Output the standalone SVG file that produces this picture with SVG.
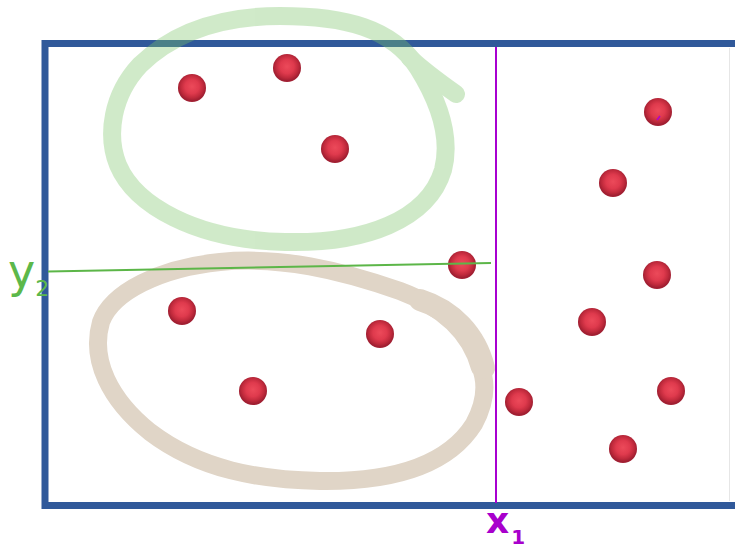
<svg xmlns="http://www.w3.org/2000/svg" width="735" height="550" viewBox="0 0 735 550">
  <defs>
    <radialGradient id="dotg" cx="50%" cy="45%" r="50%">
      <stop offset="0%" stop-color="#ec4a5a"/>
      <stop offset="50%" stop-color="#df3a4d"/>
      <stop offset="80%" stop-color="#c02a3c"/>
      <stop offset="100%" stop-color="#a11f32"/>
    </radialGradient>
    <style>
      .dot { fill: url(#dotg); }
      .frame { fill: #ffffff; stroke: #30599a; stroke-width: 7; }
      .loop { fill: none; stroke-linecap: round; stroke-linejoin: round; }
      .lbl { font-family: "DejaVu Sans", "Liberation Sans", sans-serif; }
    </style>
  </defs>

  <rect width="735" height="550" fill="#ffffff"/>

  <g id="frame">
    <rect class="frame" x="45" y="43.5" width="700" height="462"/>
    <line x1="729.5" y1="48" x2="729.5" y2="501" stroke="#e6e6e6" stroke-width="1"/>
  </g>

  <g id="beige-loop">
    <path class="loop" stroke="#e0d5c7" stroke-width="18" d="M480,368 C470,330 440,306 400,291 C340,270 280,256 220,262 C160,268 112,292 101,322 C90,360 110,400 150,432 C200,470 260,480 320,481 C400,482 450,462 474,424 C488,398 486,380 480,366"/>
    <path class="loop" stroke="#e0d5c7" stroke-width="22" d="M420,300 C452,310 476,335 484,368"/>
  </g>

  <g id="green-loop" opacity="0.36">
    <path class="loop" stroke="#7cc56a" stroke-width="18" d="M280,16 C345,16 392,28 418,68 C438,100 452,135 443,170 C428,220 365,244 285,242 C195,240 135,205 118,165 C106,135 112,95 140,65 C178,28 230,16 280,16 Z"/>
    <path class="loop" stroke="#7cc56a" stroke-width="18" d="M410,58 C425,72 442,84 456,94"/>
  </g>

  <g id="dots">
    <g id="dot1"><circle class="dot" cx="192" cy="88" r="14"/></g>
    <g id="dot2"><circle class="dot" cx="287" cy="68" r="14"/></g>
    <g id="dot3"><circle class="dot" cx="335" cy="149" r="14"/></g>
    <g id="dot4"><circle class="dot" cx="462" cy="265" r="14"/></g>
    <g id="dot5"><circle class="dot" cx="182" cy="311" r="14"/></g>
    <g id="dot6"><circle class="dot" cx="380" cy="334" r="14"/></g>
    <g id="dot7"><circle class="dot" cx="253" cy="391" r="14"/></g>
    <g id="dot8"><circle class="dot" cx="658" cy="112" r="14"/><line x1="657" y1="120" x2="660" y2="116" stroke="#b000d0" stroke-width="1.5"/></g>
    <g id="dot9"><circle class="dot" cx="613" cy="183" r="14"/></g>
    <g id="dot10"><circle class="dot" cx="657" cy="275" r="14"/></g>
    <g id="dot11"><circle class="dot" cx="592" cy="322" r="14"/></g>
    <g id="dot12"><circle class="dot" cx="519" cy="402" r="14"/></g>
    <g id="dot13"><circle class="dot" cx="671" cy="391" r="14"/></g>
    <g id="dot14"><circle class="dot" cx="623" cy="449" r="14"/></g>
  </g>

  <g id="connectors">
    <line id="x1-line" x1="496" y1="47" x2="496" y2="503" stroke="#a800d0" stroke-width="2"/>
    <line id="y2-line" x1="48" y1="271.5" x2="491" y2="263" stroke="#5cb648" stroke-width="2"/>
  </g>

  <g id="label-y2">
    <text class="lbl" x="8" y="287" font-size="46" fill="#5cb84a">y<tspan font-size="22" dx="0" dy="9">2</tspan></text>
  </g>
  <g id="label-x1">
    <text class="lbl" x="486" y="533" font-size="36" font-weight="bold" fill="#a800cc">x<tspan font-size="20" dx="2" dy="11">1</tspan></text>
  </g>
</svg>
